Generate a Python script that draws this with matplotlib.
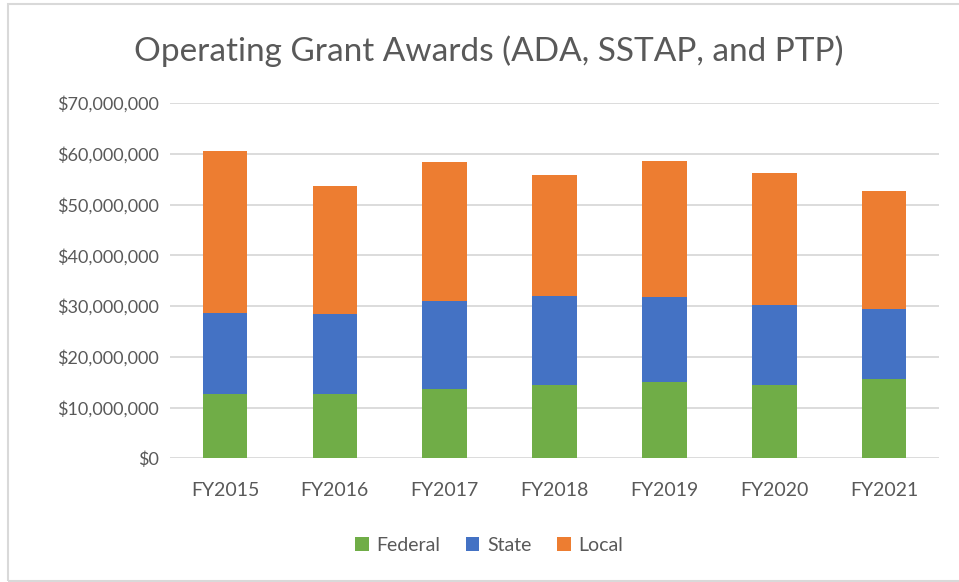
import matplotlib.pyplot as plt
import matplotlib.patches as patches
from matplotlib.ticker import FuncFormatter, MultipleLocator

years = ['FY2015', 'FY2016', 'FY2017', 'FY2018', 'FY2019', 'FY2020', 'FY2021']
federal = [12.65e6, 12.65e6, 13.7e6, 14.4e6, 14.95e6, 14.4e6, 15.7e6]
state = [16.0e6, 15.75e6, 17.25e6, 17.5e6, 16.75e6, 15.8e6, 13.7e6]
local = [31.95e6, 25.3e6, 27.35e6, 23.9e6, 26.8e6, 26.1e6, 23.3e6]

plt.rcParams['font.family'] = ['Lato', 'DejaVu Sans']
grey = '#595959'

fig = plt.figure(figsize=(9.59, 5.82), dpi=100)
ax = fig.add_axes([0.1773, 0.2125, 0.8019, 0.6105])

x = range(len(years))
w = 0.406
b2 = [f + s for f, s in zip(federal, state)]
ax.bar(x, federal, w, color='#70AD47', label='Federal', zorder=3)
ax.bar(x, state, w, bottom=federal, color='#4472C4', label='State', zorder=3)
ax.bar(x, local, w, bottom=b2, color='#ED7D31', label='Local', zorder=3)

ax.set_xlim(-0.5, 6.5)
ax.set_ylim(0, 70e6)
ax.yaxis.set_major_locator(MultipleLocator(10e6))
ax.yaxis.set_major_formatter(FuncFormatter(lambda v, p: '${:,.0f}'.format(v)))
ax.set_xticks(list(x))
ax.set_xticklabels(years)
ax.tick_params(axis='both', length=0, colors=grey)
ax.tick_params(axis='x', pad=17, labelsize=14)
ax.tick_params(axis='y', pad=8, labelsize=13)
ax.grid(axis='y', color='#d9d9d9', linewidth=1.3, zorder=0)
for s in ax.spines.values():
    s.set_visible(False)

ax.set_title('Operating Grant Awards (ADA, SSTAP, and PTP)', color=grey,
             fontsize=24, pad=30, x=0.415)

leg = ax.legend(loc='center', bbox_to_anchor=(0.415, -0.245), ncol=3, frameon=False,
                fontsize=14, handlelength=0.7, handleheight=0.7, handletextpad=0.4,
                columnspacing=1.3)
for t in leg.get_texts():
    t.set_color(grey)

fig.patches.append(patches.Rectangle((8 / 959, 1 / 582), 1.0, 577 / 582, fill=False,
                                     edgecolor='#d9d9d9', linewidth=1.5,
                                     transform=fig.transFigure, figure=fig))

plt.savefig('out.png', dpi=100)
